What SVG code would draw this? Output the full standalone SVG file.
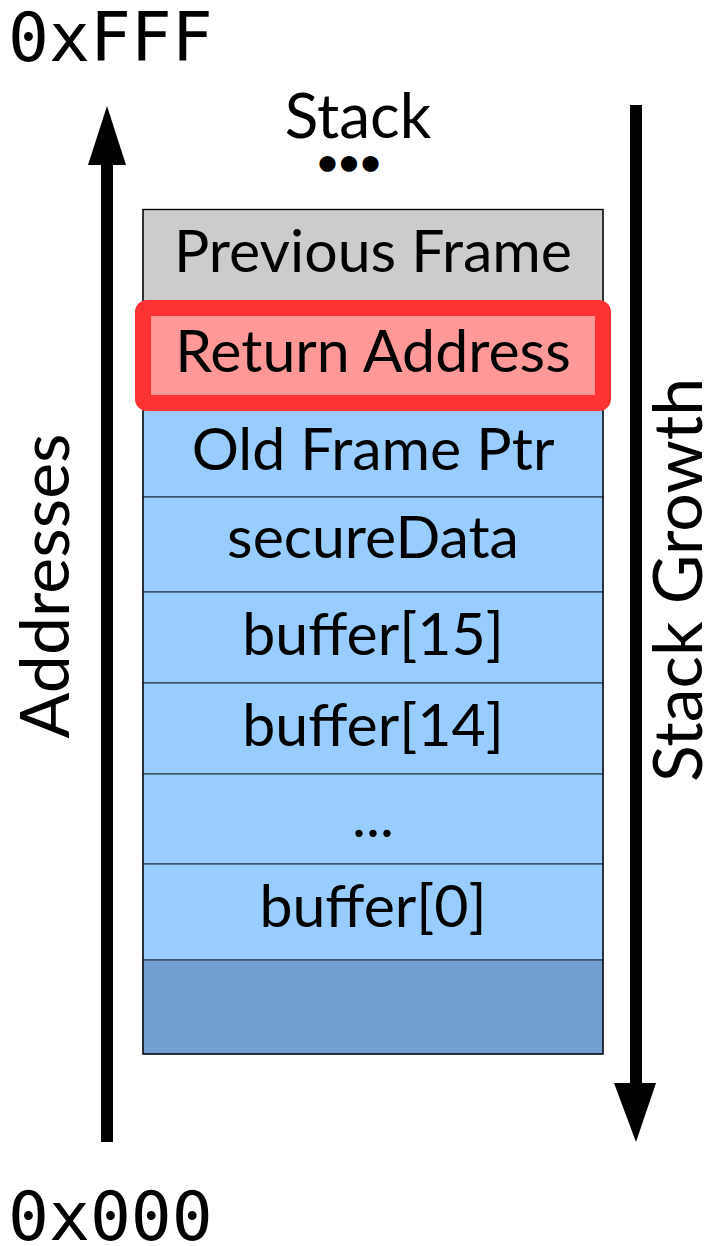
<svg xmlns="http://www.w3.org/2000/svg" width="708" height="1246" viewBox="0 0 708 1246">
  <style>
    .lbl { font-family: Lato, "Open Sans", sans-serif; font-size: 59px; fill: #000; text-anchor: middle; }
    .side { font-family: Lato, "Open Sans", sans-serif; font-size: 68px; fill: #000; text-anchor: middle; }
    .mono { font-family: "DejaVu Sans Mono", "Liberation Mono", monospace; font-size: 68px; fill: #000; }
    .cell { stroke: #2e3e4e; stroke-width: 1.2; }
    .blue { fill: #99ccff; }
  </style>
  <rect width="708" height="1246" fill="#fff"/>

  <g id="addr-high"><text class="mono" x="8" y="61">0xFFF</text></g>
  <g id="addr-low"><text class="mono" x="8" y="1240">0x000</text></g>

  <g id="stack-title">
    <text class="lbl" x="358" y="138" style="font-size:62px">Stack</text>
    <text class="lbl" x="349" y="175" style="font-size:37px;font-weight:bold">•••</text>
  </g>

  <g id="connectors">
    <g id="addresses-arrow">
      <rect x="101" y="160" width="12" height="982" fill="#000"/>
      <polygon points="107,106 126,165 88,165" fill="#000"/>
    </g>
    <g id="growth-arrow">
      <rect x="630" y="105" width="12" height="982" fill="#000"/>
      <polygon points="614,1083 656,1083 636,1142" fill="#000"/>
    </g>
  </g>

  <g id="addresses-label"><text class="side" transform="translate(69,586) rotate(-90)">Addresses</text></g>
  <g id="growth-label"><text class="side" transform="translate(702,580) rotate(-90)">Stack Growth</text></g>

  <g id="previous-frame">
    <rect class="cell" x="143" y="209.5" width="460" height="98.5" fill="#cccccc" stroke="#000"/>
    <text class="lbl" x="373" y="272">Previous Frame</text>
  </g>
  <g id="old-frame-ptr">
    <rect class="cell blue" x="143" y="403" width="460" height="94"/>
    <text class="lbl" x="373" y="470">Old Frame Ptr</text>
  </g>
  <g id="secure-data">
    <rect class="cell blue" x="143" y="497" width="460" height="95"/>
    <text class="lbl" x="373" y="558">secureData</text>
  </g>
  <g id="buffer-15">
    <rect class="cell blue" x="143" y="592" width="460" height="91"/>
    <text class="lbl" x="373" y="655">buffer[15]</text>
  </g>
  <g id="buffer-14">
    <rect class="cell blue" x="143" y="683" width="460" height="91"/>
    <text class="lbl" x="373" y="746">buffer[14]</text>
  </g>
  <g id="buffer-ellipsis">
    <rect class="cell blue" x="143" y="774" width="460" height="90"/>
    <text class="lbl" x="373" y="837">...</text>
  </g>
  <g id="buffer-0">
    <rect class="cell blue" x="143" y="864" width="460" height="96"/>
    <text class="lbl" x="373" y="927">buffer[0]</text>
  </g>
  <g id="bottom-block">
    <rect class="cell" x="143" y="960" width="460" height="94" fill="#729fcf"/>
  </g>
  <rect x="143" y="209.5" width="460" height="844.5" fill="none" stroke="#000" stroke-width="1.2"/>

  <g id="return-address">
    <rect x="143" y="308" width="460" height="95" rx="4" fill="#ff9999" stroke="#ff3333" stroke-width="16"/>
    <text class="lbl" x="373" y="372">Return Address</text>
  </g>
</svg>
